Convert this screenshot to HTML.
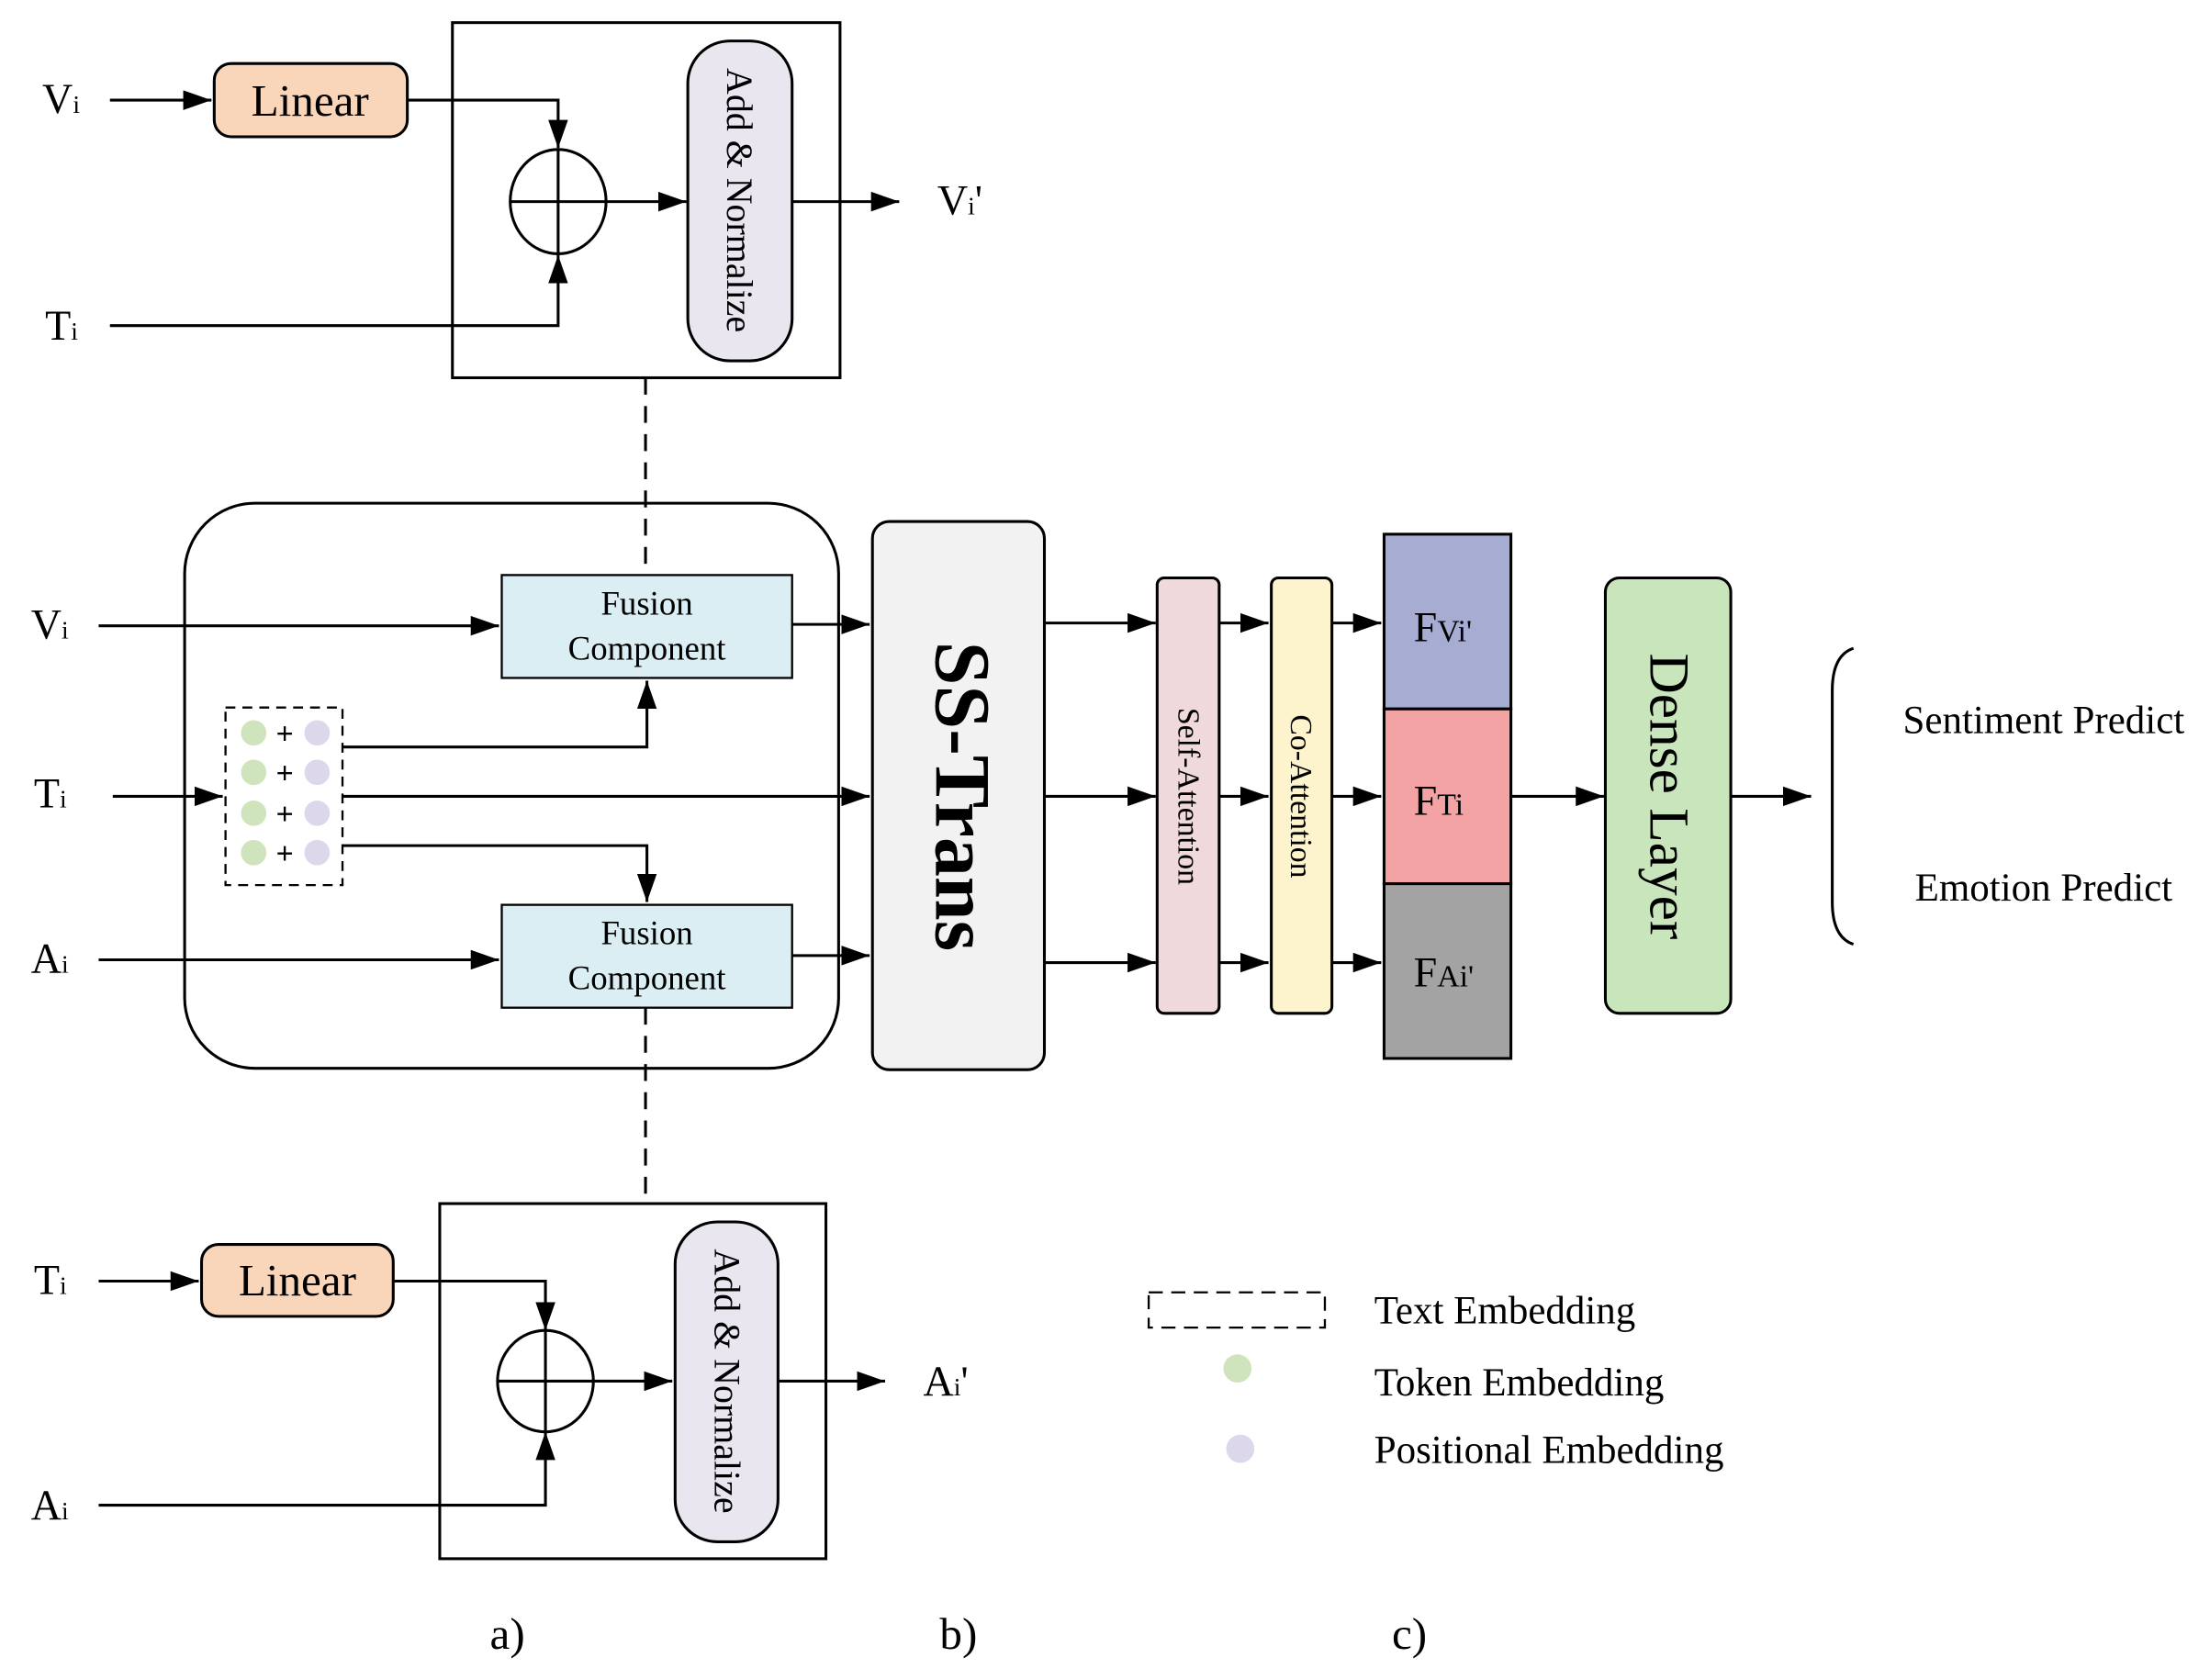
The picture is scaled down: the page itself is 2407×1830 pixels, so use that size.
<!DOCTYPE html>
<html><head><style>html,body{margin:0;padding:0;background:#fff}svg{display:block}svg text{font-family:"Liberation Serif",serif}</style></head><body>
<svg width="2407" height="1830" viewBox="0 0 1568 1192" xmlns="http://www.w3.org/2000/svg">
<defs>
<marker id="b" markerWidth="20" markerHeight="14" refX="20" refY="7" orient="auto" markerUnits="userSpaceOnUse"><path d="M0,0L20,7L0,14z" fill="#000"/></marker></defs>
<g stroke="#000" stroke-width="2" fill="none">
<rect x="321" y="16" width="275" height="252"/>
<rect x="152" y="45" width="137" height="52" rx="12" fill="#f9d5b9"/>
<path d="M78,71H150" marker-end="url(#b)"/>
<path d="M289,71H396V105" marker-end="url(#b)"/>
<path d="M78,231H396V181" marker-end="url(#b)"/>
<ellipse cx="396" cy="143" rx="34" ry="37"/>
<path d="M362,143H430M396,106V180"/>
<path d="M430,143H487" marker-end="url(#b)"/>
<rect x="488" y="29" width="74" height="227" rx="30" fill="#e9e6f0"/>
<path d="M562,143H638" marker-end="url(#b)"/>
<path d="M458,268V408M458,715V854" stroke-dasharray="12,8"/>
<rect x="131" y="357" width="464" height="401" rx="50"/>
<rect x="356" y="408" width="206" height="73" fill="#dbeef4" stroke-width="1.5"/>
<rect x="356" y="642" width="206" height="73" fill="#dbeef4" stroke-width="1.5"/>
<path d="M70,444H354" marker-end="url(#b)"/>
<path d="M80,565H158" marker-end="url(#b)"/>
<path d="M70,681H354" marker-end="url(#b)"/>
<rect x="160" y="502" width="83" height="126" stroke-dasharray="7,5" stroke-width="1.5"/>
<path d="M243,530H459V483" marker-end="url(#b)"/>
<path d="M243,565H617" marker-end="url(#b)"/>
<path d="M243,600H459V640" marker-end="url(#b)"/>
<path d="M562,443H617" marker-end="url(#b)"/>
<path d="M562,678H617" marker-end="url(#b)"/>
<rect x="619" y="370" width="122" height="389" rx="12" fill="#f2f2f2"/>
<path d="M741,442H820" marker-end="url(#b)"/>
<path d="M741,565H820" marker-end="url(#b)"/>
<path d="M741,683H820" marker-end="url(#b)"/>
<rect x="821" y="410" width="44" height="309" rx="5" fill="#f0d9da"/>
<path d="M865,442H900" marker-end="url(#b)"/>
<path d="M865,565H900" marker-end="url(#b)"/>
<path d="M865,683H900" marker-end="url(#b)"/>
<rect x="902" y="410" width="43" height="309" rx="5" fill="#fdf3cd"/>
<path d="M945,442H980" marker-end="url(#b)"/>
<path d="M945,565H980" marker-end="url(#b)"/>
<path d="M945,683H980" marker-end="url(#b)"/>
<rect x="982" y="379" width="90" height="124" fill="#a7acd3"/>
<rect x="982" y="503" width="90" height="124" fill="#f4a3a4"/>
<rect x="982" y="627" width="90" height="124" fill="#a3a3a3"/>
<path d="M1072,565H1138" marker-end="url(#b)"/>
<rect x="1139" y="410" width="89" height="309" rx="10" fill="#c9e5bb"/>
<path d="M1228,565H1285" marker-end="url(#b)"/>
<path d="M1315,460Q1300,465 1300,490V640Q1300,665 1315,670"/>
<rect x="312" y="854" width="274" height="252"/>
<rect x="143" y="883" width="136" height="51" rx="12" fill="#f9d5b9"/>
<path d="M70,909H141" marker-end="url(#b)"/>
<path d="M279,909H387V944" marker-end="url(#b)"/>
<path d="M70,1068H387V1016" marker-end="url(#b)"/>
<ellipse cx="387" cy="980" rx="34" ry="36"/>
<path d="M353,980H421M387,944V1016"/>
<path d="M421,980H477" marker-end="url(#b)"/>
<rect x="479" y="867" width="73" height="227" rx="30" fill="#e9e6f0"/>
<path d="M552,980H628" marker-end="url(#b)"/>
<rect x="815" y="917" width="125" height="25" stroke-dasharray="10,6" stroke-width="1.5"/>
</g>
<g stroke="none">
<g fill="#cfe3bd"><circle cx="180" cy="520" r="9"/><circle cx="180" cy="548" r="9"/><circle cx="180" cy="577" r="9"/><circle cx="180" cy="605" r="9"/><circle cx="878" cy="971" r="10"/></g>
<g fill="#dcd7ea"><circle cx="225" cy="520" r="9"/><circle cx="225" cy="548" r="9"/><circle cx="225" cy="577" r="9"/><circle cx="225" cy="605" r="9"/><circle cx="880" cy="1028" r="10"/></g>
</g>
<g font-weight="bold" font-size="22" text-anchor="middle">
<text x="202" y="528">+</text><text x="202" y="556">+</text><text x="202" y="585">+</text><text x="202" y="613">+</text></g>
<g font-size="30" fill="#000">
<text x="30" y="80">V<tspan font-size="18">i</tspan></text>
<text x="32" y="241">T<tspan font-size="18">i</tspan></text>
<text x="665" y="152">V<tspan font-size="18">i</tspan>'</text>
<text x="22" y="453">V<tspan font-size="18">i</tspan></text>
<text x="24" y="573">T<tspan font-size="18">i</tspan></text>
<text x="22" y="690">A<tspan font-size="18">i</tspan></text>
<text x="24" y="918">T<tspan font-size="18">i</tspan></text>
<text x="22" y="1078">A<tspan font-size="18">i</tspan></text>
<text x="655" y="990">A<tspan font-size="18">i</tspan>'</text>
<text x="1003" y="455">F<tspan font-size="22">Vi'</tspan></text>
<text x="1003" y="578">F<tspan font-size="22">Ti</tspan></text>
<text x="1003" y="700">F<tspan font-size="22">Ai'</tspan></text>
</g>
<g font-size="32" text-anchor="middle"><text x="220" y="82">Linear</text><text x="211" y="919">Linear</text></g>
<g font-size="24" text-anchor="middle">
<text x="459" y="436">Fusion</text><text x="459" y="468">Component</text>
<text x="459" y="670">Fusion</text><text x="459" y="702">Component</text></g>
<g font-size="26" text-anchor="middle">
<text transform="translate(516,142) rotate(90)">Add &amp; Normalize</text>
<text transform="translate(507,980) rotate(90)">Add &amp; Normalize</text></g>
<text transform="translate(664,565) rotate(90)" font-size="56" font-weight="bold" text-anchor="middle">SS-Trans</text>
<text transform="translate(836,565) rotate(90)" font-size="22" text-anchor="middle">Self-Attention</text>
<text transform="translate(916,565) rotate(90)" font-size="22" text-anchor="middle">Co-Attention</text>
<text transform="translate(1171,565) rotate(90)" font-size="40" text-anchor="middle">Dense Layer</text>
<g font-size="28">
<text x="1450" y="520" text-anchor="middle">Sentiment Predict</text>
<text x="1450" y="639" text-anchor="middle">Emotion Predict</text>
<text x="975" y="939">Text Embedding</text>
<text x="975" y="990">Token Embedding</text>
<text x="975" y="1038">Positional Embedding</text>
</g>
<g font-size="32" text-anchor="middle"><text x="360" y="1170">a)</text><text x="680" y="1170">b)</text><text x="1000" y="1170">c)</text></g>
</svg>
</body></html>
